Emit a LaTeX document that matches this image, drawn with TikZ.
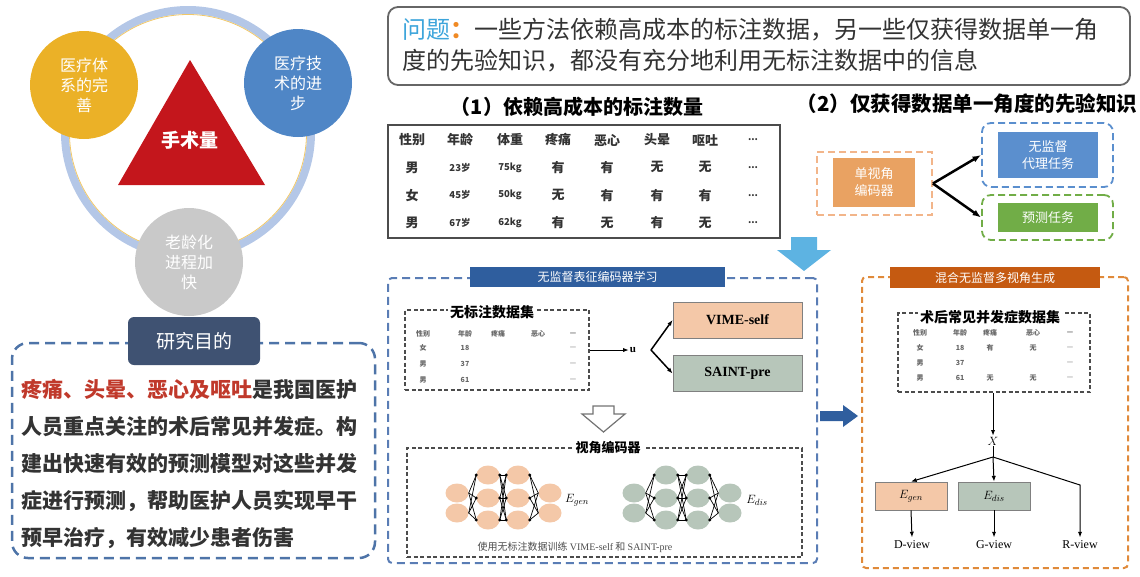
\documentclass[tikz,border=0pt]{standalone}
\usepackage{fontspec}
\setmainfont{Noto Sans CJK SC}
\newfontfamily\lat{Liberation Serif}
\usepackage{tikz}
\usetikzlibrary{arrows.meta,positioning,shapes.geometric,calc}

\definecolor{ringblue}{HTML}{B4C7E7}
\definecolor{sysgold}{HTML}{EBB127}
\definecolor{techblue}{HTML}{4F86C6}
\definecolor{agegray}{HTML}{C9C9C9}
\definecolor{opred}{HTML}{C4161C}
\definecolor{aimslate}{HTML}{3F5272}
\definecolor{aimdash}{HTML}{4E74A8}
\definecolor{txtred}{HTML}{C0392B}
\definecolor{qblue}{HTML}{3DA5DB}
\definecolor{qorange}{HTML}{F08A24}
\definecolor{encorange}{HTML}{E9A262}
\definecolor{encdash}{HTML}{F2B58A}
\definecolor{taskblue}{HTML}{5B8FCE}
\definecolor{taskgreen}{HTML}{71AD47}
\definecolor{downblue}{HTML}{5DB3E2}
\definecolor{learndash}{HTML}{5A7DB5}
\definecolor{titleblue}{HTML}{2F5E9E}
\definecolor{peach}{HTML}{F4C8A8}
\definecolor{sage}{HTML}{B7C6BA}
\definecolor{mixdash}{HTML}{E08A3A}
\definecolor{titleorange}{HTML}{C55A11}

\begin{document}
\begin{tikzpicture}[x=1pt, y=-1pt,
  ball/.style={circle, minimum size=108pt, inner sep=0pt, align=center, text=white, font=\fontsize{16}{20}\selectfont},
  solidbox/.style={align=center, text=white, inner sep=2pt, font=\fontsize{13}{17}\selectfont},
  dashbox/.style={line width=1.8pt, dash pattern=on 7pt off 4pt, rounded corners=9pt},
  framedash/.style={draw=black!70, line width=1.5pt, dash pattern=on 4pt off 2.5pt},
  cell/.style={inner sep=1pt, font=\bfseries\fontsize{13}{13}\selectfont, text=black!80},
  cellnum/.style={inner sep=1pt, font=\bfseries\fontsize{9.5}{9.5}\selectfont, text=black!80},
  tiny/.style={inner sep=0.5pt, font=\bfseries\fontsize{7}{7}\selectfont, text=black!60},
  modbox/.style={draw=gray, line width=0.8pt, minimum width=129pt, minimum height=36pt, font=\lat\bfseries\fontsize{14}{14}\selectfont},
  neuron/.style={ellipse, minimum width=23pt, minimum height=19pt, inner sep=0pt},
  arrow/.style={-{Latex[length=3mm]}, line width=2.5pt},
  thinarrow/.style={-{Latex[length=2mm]}, line width=1pt}
]
\useasboundingbox (0,0) rectangle (1140,576);

\draw[ringblue, line width=8pt] (188,133) circle (123pt);
\draw[sysgold!70, line width=0.8pt] (188,133) circle (118.5pt);
\node[ball, fill=sysgold] (sys) at (84,85) {医疗体\\系的完\\善};
\node[ball, fill=techblue] (tech) at (298,83) {医疗技\\术的进\\步};
\node[ball, fill=agegray] (age) at (189,262) {老龄化\\进程加\\快};
\fill[opred] (190,60) -- (265,185) -- (118,185) -- cycle;
\node[text=white, font=\bfseries\fontsize{19}{19}\selectfont] (ops) at (190,140) {手术量};

\node[draw=aimdash, line width=2.5pt, dash pattern=on 10pt off 6pt, rounded corners=16pt, minimum width=363pt, minimum height=215pt] (aimbox) at (193.5,450.5) {};
\node[fill=aimslate, rounded corners=6pt, minimum width=132pt, minimum height=48pt, text=white, font=\fontsize{19}{19}\selectfont] (aim) at (194,341) {研究目的};
\node[anchor=north west, inner sep=0pt, align=left, font=\bfseries\fontsize{21}{37}\selectfont, text=black!80] (aimtxt) at (21,379) {\textcolor{txtred}{疼痛、头晕、恶心及呕吐}是我国医护\\人员重点关注的术后常见并发症。构\\建出快速有效的预测模型对这些并发\\症进行预测，帮助医护人员实现早干\\预早治疗，有效减少患者伤害};

\node[draw=black!60, line width=1.8pt, rounded corners=10pt, minimum width=742pt, minimum height=78pt] (prob) at (759,46) {};
\node[anchor=north west, inner sep=0pt, align=left, font=\fontsize{24}{31}\selectfont, text=black!80] (probtxt) at (402,18) {\textcolor{qblue}{问题}\textcolor{qorange}{\bfseries ：}一些方法依赖高成本的标注数据，另一些仅获得数据单一角\\度的先验知识，都没有充分地利用无标注数据中的信息};

\node[font=\bfseries\fontsize{20}{20}\selectfont] (h1) at (577,107) {（1）依赖高成本的标注数量};
\node[font=\bfseries\fontsize{20.5}{20.5}\selectfont] (h2) at (967,104) {（2）仅获得数据单一角度的先验知识};

\node[draw=black!70, line width=1.5pt, minimum width=392pt, minimum height=113pt] (tab) at (584,181.5) {};
\foreach \h/\x [count=\j] in {性别/412, 年龄/460, 体重/510, 疼痛/558, 恶心/607, 头晕/657, 呕吐/705}
  \node[cell] (th-\j) at (\x,140) {\h};
\node[cellnum] (th-8) at (753,140) {...};
\foreach \ca/\cb/\cc/\cd/\ce/\cf/\cg [count=\i] in {男/23岁/75kg/有/有/无/无, 女/45岁/50kg/无/有/有/有, 男/67岁/62kg/有/无/有/无}{
  \node[cell] (t\i-1) at (412,139.7+27.7*\i) {\ca};
  \node[cellnum] (t\i-2) at (460,139.7+27.7*\i) {\cb};
  \node[cellnum] (t\i-3) at (510,139.7+27.7*\i) {\cc};
  \node[cell] (t\i-4) at (558,139.7+27.7*\i) {\cd};
  \node[cell] (t\i-5) at (607,139.7+27.7*\i) {\ce};
  \node[cell] (t\i-6) at (657,139.7+27.7*\i) {\cf};
  \node[cell] (t\i-7) at (705,139.7+27.7*\i) {\cg};
  \node[cellnum] (t\i-8) at (753,139.7+27.7*\i) {...};
}

\node[draw=encdash, dashbox, rounded corners=0pt, minimum width=115pt, minimum height=63pt] (encfr) at (874.5,183.5) {};
\node[solidbox, fill=encorange, minimum width=82pt, minimum height=49pt] (enc) at (874,182.5) {单视角\\编码器};
\node[draw=taskblue, dashbox, minimum width=131pt, minimum height=64pt] (unsfr) at (1047.5,155) {};
\node[solidbox, fill=taskblue, minimum width=100pt, minimum height=46pt] (uns) at (1048,155) {无监督\\代理任务};
\node[draw=taskgreen, dashbox, minimum width=131pt, minimum height=45pt] (prefr) at (1047.5,217.5) {};
\node[solidbox, fill=taskgreen, minimum width=100pt, minimum height=29pt] (pre) at (1048,217.5) {预测任务};
\draw[arrow] (encfr.east) -- (unsfr.west);
\draw[arrow] (encfr.east) -- (prefr.west);

\fill[downblue] (791,237) -- (817,237) -- (817,250) -- (831,250) -- (804,271) -- (777,250) -- (791,250) -- cycle;

\node[draw=learndash, line width=2pt, dash pattern=on 8pt off 5pt, rounded corners=4pt, minimum width=429pt, minimum height=285pt] (learnfr) at (602.5,420.5) {};
\node[fill=titleblue, text=white, minimum width=255pt, minimum height=20pt, inner sep=0pt, font=\fontsize{12}{12}\selectfont] (learntitle) at (597.5,277) {无监督表征编码器学习};

\node[framedash, minimum width=184pt, minimum height=80pt] (ufr) at (497,350) {};
\node[fill=white, inner sep=2pt, font=\bfseries\fontsize{14}{14}\selectfont] (utitle) at (492,312) {无标注数据集};
\foreach \h/\x [count=\j] in {性别/423, 年龄/465, 疼痛/498, 恶心/538, —/573}
  \node[tiny] (uh-\j) at (\x,334) {\h};
\foreach \ca/\cb [count=\i] in {女/18, 男/37, 男/61}{
  \node[tiny] (u\i-1) at (423,332+16*\i) {\ca};
  \node[tiny] (u\i-2) at (465,332+16*\i) {\cb};
  \node[tiny, text=black!35] (u\i-5) at (573,332+16*\i) {—};
}
\node[font=\lat\bfseries\fontsize{11}{11}\selectfont, inner sep=1pt] (u) at (633,350) {u};
\coordinate (ufork) at (651,350);
\node[modbox, fill=peach] (vime) at (737.5,320) {VIME-self};
\node[modbox, fill=sage] (saint) at (737.5,373.5) {SAINT-pre};
\draw[thinarrow] (ufr.east) -- (u.west);
\draw[thinarrow, line width=1.5pt] (ufork) -- (vime.west);
\draw[thinarrow, line width=1.5pt] (ufork) -- (saint.west);

\draw[black!55, line width=1.2pt, fill=white] (593,406) -- (614,406) -- (614,414) -- (625,414) -- (603.5,432) -- (582,414) -- (593,414) -- cycle;

\node[framedash, minimum width=395pt, minimum height=109pt] (viewfr) at (604.5,502.5) {};
\node[fill=white, inner sep=3pt, font=\bfseries\fontsize{13}{13}\selectfont] (viewlbl) at (608,448) {视角编码器};
\foreach \net/\col/\xa/\xb/\xc/\xd in {g/peach/457/488/518/550, d/sage/634/666/698/730}{
  \foreach \y [count=\k] in {493,513} \node[neuron, fill=\col] (\net1-\k) at (\xa,\y) {};
  \foreach \y [count=\k] in {475,498,520} \node[neuron, fill=\col] (\net2-\k) at (\xb,\y) {};
  \foreach \y [count=\k] in {475,498,520} \node[neuron, fill=\col] (\net3-\k) at (\xc,\y) {};
  \foreach \y [count=\k] in {493,513} \node[neuron, fill=\col] (\net4-\k) at (\xd,\y) {};
  \foreach \k in {1,2} \foreach \m in {1,2,3} {
    \draw[line width=0.7pt] (\net1-\k.east) -- (\net2-\m.west);
    \draw[line width=0.7pt] (\net3-\m.east) -- (\net4-\k.west);
  }
  \foreach \k in {1,2,3} \foreach \m in {1,2,3}
    \draw[line width=0.7pt] (\net2-\k.east) -- (\net3-\m.west);
  \foreach \k in {1,2,3} {
    \fill (\net2-\k.west) circle (1.6pt);
    \fill (\net2-\k.east) circle (1.6pt);
    \fill (\net3-\k.west) circle (1.6pt);
    \fill (\net3-\k.east) circle (1.6pt);
  }
}
\node[font=\fontsize{13}{13}\selectfont] (egenlbl) at (577,500) {$E_{gen}$};
\node[font=\fontsize{13}{13}\selectfont] (edislbl) at (757,500) {$E_{dis}$};
\node[text=black!70, font=\fontsize{10}{10}\selectfont] (cap) at (575,547) {使用无标注数据训练 {\lat VIME-self} 和 {\lat SAINT-pre}};

\fill[titleblue] (820,411) -- (843,411) -- (843,405) -- (858,416) -- (843,427) -- (843,421) -- (820,421) -- cycle;

\node[draw=mixdash, line width=2pt, dash pattern=on 6pt off 4pt, rounded corners=4pt, minimum width=266pt, minimum height=291pt] (mixfr) at (995,422.5) {};
\node[fill=titleorange, text=white, minimum width=210pt, minimum height=21pt, inner sep=0pt, font=\fontsize{12}{12}\selectfont] (mixtitle) at (995,277.5) {混合无监督多视角生成};
\node[framedash, minimum width=192pt, minimum height=79pt] (datafr) at (994,352.5) {};
\node[fill=white, inner sep=2pt, font=\bfseries\fontsize{14}{14}\selectfont] (dtitle) at (990,317) {术后常见并发症数据集};
\foreach \h/\x [count=\j] in {性别/920, 年龄/960, 疼痛/990, 恶心/1033, —/1070}
  \node[tiny] (dh-\j) at (\x,333) {\h};
\foreach \ca/\cb/\cc/\cd [count=\i] in {女/18/有/无, 男/37//, 男/61/无/无}{
  \node[tiny] (d\i-1) at (920,333+15*\i) {\ca};
  \node[tiny] (d\i-2) at (960,333+15*\i) {\cb};
  \node[tiny] (d\i-3) at (990,333+15*\i) {\cc};
  \node[tiny] (d\i-4) at (1033,333+15*\i) {\cd};
  \node[tiny, text=black!35] (d\i-5) at (1070,333+15*\i) {—};
}
\node[font=\fontsize{13}{13}\selectfont, inner sep=1pt] (xin) at (993,441) {$X$};
\coordinate (xfork) at (993,457);
\coordinate (rbend) at (1080,485);
\node[draw=gray, line width=0.8pt, fill=peach, minimum width=72pt, minimum height=28pt, font=\fontsize{13}{13}\selectfont] (egen) at (911,496) {$E_{gen}$};
\node[draw=gray, line width=0.8pt, fill=sage, minimum width=72pt, minimum height=28pt, font=\fontsize{13}{13}\selectfont] (edis) at (994,496) {$E_{dis}$};
\node[font=\lat\fontsize{12}{12}\selectfont] (dview) at (912,545) {D-view};
\node[font=\lat\fontsize{12}{12}\selectfont] (gview) at (994,545) {G-view};
\node[font=\lat\fontsize{12}{12}\selectfont] (rview) at (1080,545) {R-view};
\draw[thinarrow] (datafr.south -| xin) -- (xin.north);
\draw[line width=1pt] (xin.south) -- (xfork);
\draw[thinarrow] (xfork) -- (egen.north);
\draw[thinarrow] (xfork) -- (edis.north);
\draw[thinarrow] (xfork) -- (rbend) -- (rview.north);
\draw[thinarrow] (egen.south) -- (dview.north);
\draw[thinarrow] (edis.south) -- (gview.north);
\end{tikzpicture}
\end{document}
